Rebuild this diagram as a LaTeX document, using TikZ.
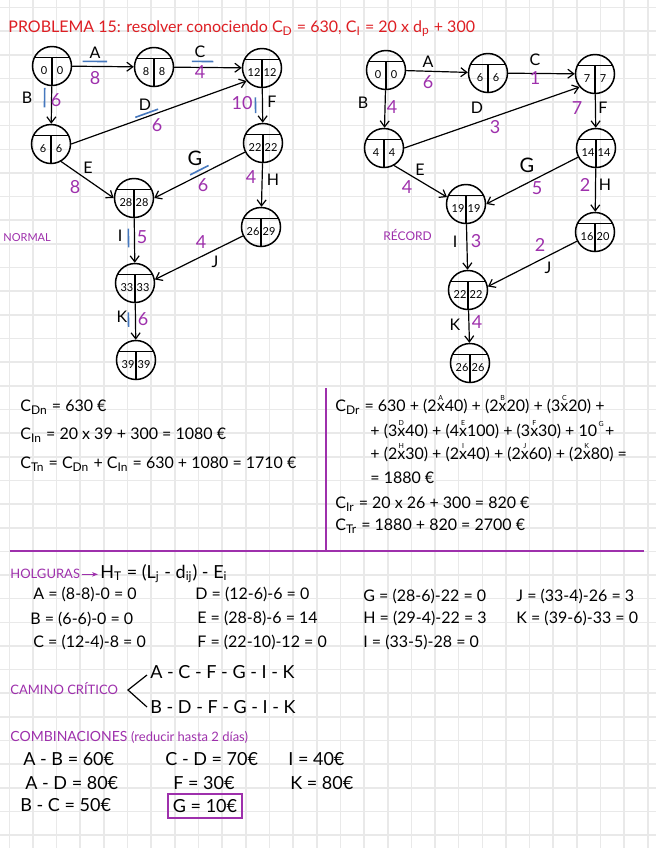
\documentclass[tikz,border=0pt]{standalone}
\usepackage{fontspec}
\setmainfont{Lato}
\usetikzlibrary{arrows.meta, calc}

\definecolor{titlered}{RGB}{222,30,35}
\definecolor{notepurple}{RGB}{158,48,172}
\definecolor{markblue}{RGB}{70,120,190}
\definecolor{gridgray}{RGB}{233,233,233}

\tikzset{
  gridline/.style={draw=gridgray, line width=0.8pt},
  evt/.style={circle, draw, line width=0.75pt, minimum size=19.5pt, inner sep=0pt},
  num/.style={font=\fontsize{5.5}{6}\selectfont, inner sep=0pt},
  arr/.style={-{Straight Barb[length=3pt,width=4.5pt]}, line width=0.6pt},
  act/.style={font=\fontsize{8}{9}\selectfont, inner sep=0pt},
  dur/.style={font=\fontsize{9}{10}\selectfont, text=notepurple, inner sep=0pt},
  critline/.style={draw=markblue, line width=0.8pt},
  txt/.style={anchor=base west, inner sep=0pt, font=\fontsize{8}{10}\selectfont},
  big/.style={txt, font=\fontsize{9}{10}\selectfont},
  head/.style={anchor=base west, inner sep=0pt, text=notepurple, font=\fontsize{6.5}{8}\selectfont},
}

% event circle: name, position, early time, late time
\newcommand{\eventnode}[4]{%
  \node[evt] (#1) at (#2) {};
  \draw[line width=0.6pt] ($(#1)+(-17.5,-8.5)$) -- ($(#1)+(17.5,-8.5)$)
    ($(#1)+(0,-8.5)$) -- ($(#1)+(0,19.5)$);
  \node[num] (#1e) at ($(#1)+(-8,5)$) {#3};
  \node[num] (#1l) at ($(#1)+(8,5)$) {#4};
}
% blue mark along a critical activity
\newcommand{\critmark}[5]{%
  \draw[critline] ($(#1)!#3!(#2)+(#5)$) -- ($(#1)!#4!(#2)+(#5)$);}
% small activity letter above a factor
\newcommand{\lbl}[3][5.5pt]{\leavevmode\hbox{\ooalign{#3\cr\hidewidth\raisebox{#1}[0pt][0pt]{\fontsize{3.5}{4}\selectfont #2}\hidewidth\cr}}}

\begin{document}
\begin{tikzpicture}[x=0.5pt, y=-0.5pt]
  \useasboundingbox (0,0) rectangle (656,848);
  \fill[white] (0,0) rectangle (656,848);
  % squared paper
  \foreach \gx in {0,...,27}
    \draw[gridline] ({9.3+23.65*\gx},0) -- ({9.3+23.65*\gx},848);
  \foreach \gy in {0,...,35}
    \draw[gridline] (0,{7.4+23.65*\gy}) -- (656,{7.4+23.65*\gy});

  \node[anchor=base west, inner sep=0pt, text=titlered, font=\fontsize{8}{10}\selectfont] (title) at (8,32)
    {PROBLEMA 15: resolver conociendo C\textsubscript{D} = 630, C\textsubscript{I} = 20 x d\textsubscript{p} + 300};

  % normal network
  \eventnode{n1}{52,66}{0}{0}
  \eventnode{n2}{154,67}{8}{8}
  \eventnode{n3}{262,68}{12}{12}
  \eventnode{n4}{51,144}{6}{6}
  \eventnode{n5}{263,143}{22}{22}
  \eventnode{n6}{134,198}{28}{28}
  \eventnode{n7}{261,227}{26}{29}
  \eventnode{n8}{135,283}{33}{33}
  \eventnode{n9}{136,360}{39}{39}
  \draw[arr] (n1) -- (n2);
  \draw[arr] (n2) -- (n3);
  \draw[arr] (n1) -- (n4);
  \draw[arr] (n4.east) -- (n3.220);
  \draw[arr] (n3) -- (n5);
  \draw[arr] (n4.-60) -- (n6.west);
  \draw[arr] (n5) -- (n6.east);
  \draw[arr] (n5) -- (n7);
  \draw[arr] (n6) -- (n8);
  \draw[arr] (n7) -- (n8.10);
  \draw[arr] (n8) -- (n9);
  \critmark{n1}{n2}{0.30}{0.54}{0,-5}
  \critmark{n2}{n3}{0.35}{0.55}{0,-6}
  \critmark{n1}{n4}{0.28}{0.53}{-7,0}
  \critmark{n4.east}{n3.220}{0.36}{0.49}{1,-4}
  \critmark{n3}{n5}{0.39}{0.60}{-7,0}
  \critmark{n5}{n6.east}{0.50}{0.67}{0,-5}
  \critmark{n6}{n8}{0.36}{0.58}{-6,0}
  \critmark{n8}{n9}{0.38}{0.57}{-7,0}
  \node[act] (lA) at (95,53) {A};   \node[dur] (dA) at (95,78) {8};
  \node[act] (lC) at (200,52) {C};  \node[dur] (dC) at (200,72) {4};
  \node[act] (lB) at (27,98) {B};   \node[dur] (dB) at (56,100) {6};
  \node[act] (lD) at (145,105) {D}; \node[dur] (dD) at (157,125) {6};
  \node[act] (lE) at (88,168) {E};  \node[dur] (dE) at (75,187) {8};
  \node[act] (lF) at (272,102) {F}; \node[dur] (dF) at (242,103) {10};
  \node[act, font=\fontsize{10}{11}\selectfont] (lG) at (195,158) {G};
  \node[dur] (dG) at (203,185) {6};
  \node[act] (lH) at (273,180) {H}; \node[dur] (dH) at (251,177) {4};
  \node[act] (lI) at (120,236) {I}; \node[dur] (dI) at (142,237) {5};
  \node[act] (lJ) at (215,262) {J}; \node[dur] (dJ) at (201,242) {4};
  \node[act] (lK) at (122,317) {K}; \node[dur] (dK) at (143,319) {6};
  \node[head, anchor=west, font=\fontsize{5.5}{6}\selectfont] (normal) at (3,238) {NORMAL};

  % crash network
  \eventnode{r1}{386,70}{0}{0}
  \eventnode{r2}{488,73}{6}{6}
  \eventnode{r3}{595,74}{7}{7}
  \eventnode{r4}{384,148}{4}{4}
  \eventnode{r5}{596,148}{14}{14}
  \eventnode{r6}{466,204}{19}{19}
  \eventnode{r7}{595,232}{16}{20}
  \eventnode{r8}{468,290}{22}{22}
  \eventnode{r9}{470,363}{26}{26}
  \draw[arr] (r1) -- (r2);
  \draw[arr] (r2) -- (r3);
  \draw[arr] (r1) -- (r4);
  \draw[arr] (r4.east) -- (r3.220);
  \draw[arr] (r3) -- (r5);
  \draw[arr] (r4.-60) -- (r6.160);
  \draw[arr] (r5) -- (r6.east);
  \draw[arr] (r5) -- (r7);
  \draw[arr] (r6) -- (r8);
  \draw[arr] (r7) -- (r8.10);
  \draw[arr] (r8) -- (r9);
  \node[act] (rA) at (428,62) {A};  \node[dur] (rdA) at (428,82) {6};
  \node[act] (rC) at (535,60) {C};  \node[dur] (rdC) at (535,78) {1};
  \node[act] (rB) at (363,103) {B}; \node[dur] (rdB) at (392,107) {4};
  \node[act] (rD) at (477,108) {D}; \node[dur] (rdD) at (495,127) {3};
  \node[act] (rE) at (420,170) {E}; \node[dur] (rdE) at (407,187) {4};
  \node[act] (rF) at (603,108) {F}; \node[dur] (rdF) at (577,108) {7};
  \node[act, font=\fontsize{10}{11}\selectfont] (rG) at (527,165) {G};
  \node[dur] (rdG) at (537,188) {5};
  \node[act] (rH) at (605,185) {H}; \node[dur] (rdH) at (585,185) {2};
  \node[act] (rI) at (455,242) {I}; \node[dur] (rdI) at (476,241) {3};
  \node[act] (rJ) at (548,268) {J}; \node[dur] (rdJ) at (540,245) {2};
  \node[act] (rK) at (455,325) {K}; \node[dur] (rdK) at (477,322) {4};
  \node[head, anchor=west, font=\fontsize{6}{7}\selectfont] (record) at (383,235) {RÉCORD};

  % costs
  \node[txt] (cdn) at (20,411) {C\textsubscript{Dn} = 630 €};
  \node[txt] (cin) at (20,439) {C\textsubscript{In} = 20 x 39 + 300 = 1080 €};
  \node[txt] (ctn) at (20,468) {C\textsubscript{Tn} = C\textsubscript{Dn} + C\textsubscript{In} = 630 + 1080 = 1710 €};
  \node[txt] (cdr1) at (335,411) {C\textsubscript{Dr} = 630 + (2\lbl{A}{x}40) + (2\lbl{B}{x}20) + (3\lbl{C}{x}20) +};
  \node[txt] (cdr2) at (370,436) {+ (3\lbl{D}{x}40) + (4\lbl{E}{x}100) + (3\lbl{F}{x}30) + 10\lbl[5pt]{G}{\kern4pt}+};
  \node[txt] (cdr3) at (370,459) {+ (2\lbl{H}{x}30) + (2\lbl{I}{x}40) + (2\lbl{J}{x}60) + (2\lbl{K}{x}80) =};
  \node[txt] (cdr4) at (370,483) {= 1880 €};
  \node[txt] (cir) at (335,508) {C\textsubscript{Ir} = 20 x 26 + 300 = 820 €};
  \node[txt] (ctr) at (335,530) {C\textsubscript{Tr} = 1880 + 820 = 2700 €};
  \draw[notepurple, line width=0.75pt] (326,388) -- (326,551);
  \draw[notepurple, line width=0.75pt] (10,551) -- (644,551);

  % floats
  \node[head, font=\fontsize{6.5}{7}\selectfont] (hol) at (10,578) {HOLGURAS};
  \node[big] (hform) at (100,578)
    {H\textsubscript{T} = (L\textsubscript{j} - d\textsubscript{ij}) - E\textsubscript{i}};
  \draw[-{Stealth[length=3pt]}, notepurple, line width=0.7pt, shorten <=1pt, shorten >=1pt]
    ([yshift=-0.5pt]hol.east) -- ([yshift=-0.5pt]hol.east -| hform.west);
  \node[txt] (hA) at (33,599) {A = (8-8)-0 = 0};
  \node[txt] (hB) at (30,624) {B = (6-6)-0 = 0};
  \node[txt] (hC) at (33,647) {C = (12-4)-8 = 0};
  \node[txt] (hD) at (195,599) {D = (12-6)-6 = 0};
  \node[txt] (hE) at (197,623) {E = (28-8)-6 = 14};
  \node[txt] (hF) at (197,647) {F = (22-10)-12 = 0};
  \node[txt] (hG) at (363,601) {G = (28-6)-22 = 0};
  \node[txt] (hH) at (363,623) {H = (29-4)-22 = 3};
  \node[txt] (hI) at (363,647) {I = (33-5)-28 = 0};
  \node[txt] (hJ) at (516,601) {J = (33-4)-26 = 3};
  \node[txt] (hK) at (516,623) {K = (39-6)-33 = 0};

  % critical path
  \node[head] (cam) at (10,694) {CAMINO CRÍTICO};
  \coordinate (bt) at (147,675);
  \coordinate (bm) at (128,690);
  \coordinate (bb) at (147,707);
  \draw[line width=0.6pt] (bt) -- (bm) -- (bb);
  \node[big] (path1) at (150,678) {A - C - F - G - I - K};
  \node[big] (path2) at (150,713) {B - D - F - G - I - K};

  % combinations
  \node[head, font=\fontsize{7}{8}\selectfont] (comb) at (10,741) {COMBINACIONES \fontsize{6.5}{7}\selectfont(reducir hasta 2 días)};
  \node[big] (cAB) at (23,765) {A - B = 60€};
  \node[big] (cAD) at (25,789) {A - D = 80€};
  \node[big] (cBC) at (20,811) {B - C = 50€};
  \node[big] (cCD) at (165,765) {C - D = 70€};
  \node[big] (cF) at (173,789) {F = 30€};
  \node[draw=notepurple, line width=0.7pt, font=\fontsize{9}{10}\selectfont,
    minimum width=37pt, minimum height=12pt, inner sep=1pt] (cG) at (205,806) {G = 10€};
  \node[big] (cI) at (288,765) {I = 40€};
  \node[big] (cK) at (290,789) {K = 80€};
\end{tikzpicture}
\end{document}
